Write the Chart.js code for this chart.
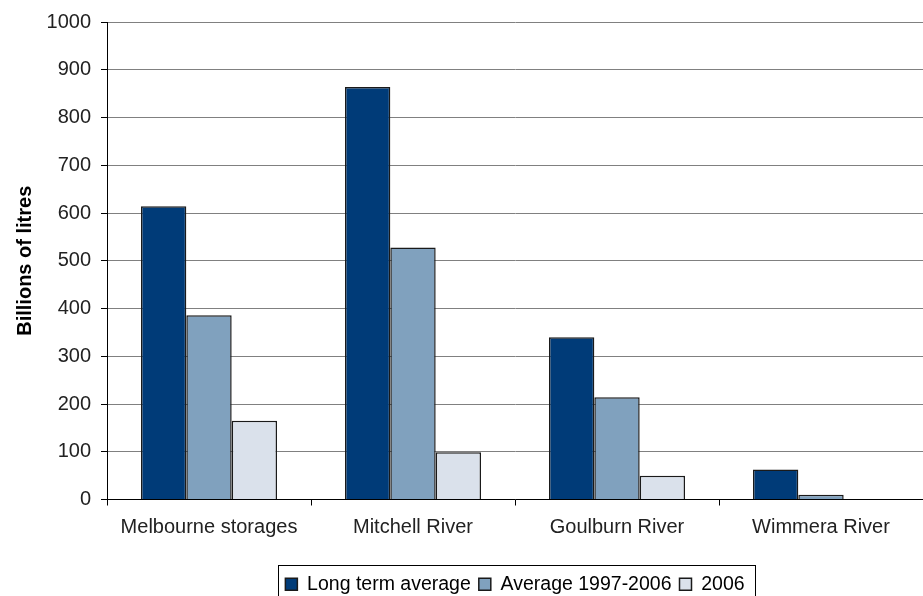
<!DOCTYPE html>
<html>
<head>
<meta charset="utf-8">
<script src="https://cdn.jsdelivr.net/npm/chart.js@4.4.0/dist/chart.umd.min.js"></script>
<style>
  html, body { margin: 0; padding: 0; background: #fff; }
  #wrap { width: 923px; height: 596px; }
</style>
</head>
<body>
<div id="wrap"><canvas id="waterChart"></canvas></div>
<script>
// data
const categories = ['Melbourne storages', 'Mitchell River', 'Goulburn River', 'Wimmera River'];
const longTermAvg = [614, 864, 340, 63];
const avg1997_2006 = [386, 528, 214, 10];
const year2006 = [165, 99, 50, 0];
const seriesNames = ['Long term average', 'Average 1997-2006', '2006'];
const yTicks = [0, 100, 200, 300, 400, 500, 600, 700, 800, 900, 1000];

const FONT = 'Liberation Sans, Arial, sans-serif';

// legend sits under the middle of the plot area (not the canvas) and has a frame
const legendBorder = {
  id: 'legendBorder',
  afterLayout(chart) {
    const lg = chart.legend;
    const ca = chart.chartArea;
    const dx = (ca.left + ca.right) / 2 - (lg.left + lg.right) / 2;
    lg.left += dx;
    lg.right += dx;
    lg.legendHitBoxes.forEach(b => { b.left += dx; });
  },
  afterDraw(chart) {
    const boxes = chart.legend.legendHitBoxes;
    if (!boxes || !boxes.length) return;
    let l = Infinity, r = -Infinity, t = Infinity;
    boxes.forEach(b => {
      l = Math.min(l, b.left);
      r = Math.max(r, b.left + b.width);
      t = Math.min(t, b.top);
    });
    const ctx = chart.ctx;
    ctx.save();
    ctx.strokeStyle = '#000';
    ctx.lineWidth = 1;
    ctx.strokeRect(Math.round(l - 7) + 0.5, Math.round(t - 10) + 0.5, Math.round(r - l + 18), 50);
    ctx.restore();
  }
};

new Chart(document.getElementById('waterChart'), {
  type: 'bar',
  data: {
    labels: categories,
    datasets: [{
      label: seriesNames[0],
      data: longTermAvg,
      backgroundColor: '#003B78',
      borderColor: '#1a1a1a',
      borderWidth: 1.5
    }, {
      label: seriesNames[1],
      data: avg1997_2006,
      backgroundColor: '#80A1BE',
      borderColor: '#1a1a1a',
      borderWidth: 1.5
    }, {
      label: seriesNames[2],
      data: year2006,
      backgroundColor: '#DAE1EB',
      borderColor: '#1a1a1a',
      borderWidth: 1.5
    }]
  },
  options: {
    responsive: true,
    maintainAspectRatio: false,
    animation: false,
    layout: { padding: { top: 12, right: -12, left: 0, bottom: -8 } },
    datasets: {
      bar: { categoryPercentage: 0.667, barPercentage: 1.0 }
    },
    plugins: {
      legend: {
        position: 'bottom',
        labels: {
          color: '#000',
          font: { family: FONT, size: 19.5 },
          boxWidth: 12,
          boxHeight: 12,
          padding: 8
        }
      },
      tooltip: { enabled: false }
    },
    scales: {
      x: {
        grid: { drawOnChartArea: false, drawTicks: true, tickLength: 6, color: '#000', offset: true },
        border: { color: '#000', width: 1 },
        ticks: { color: '#222', font: { family: FONT, size: 20 }, padding: 10, maxRotation: 0 },
        afterFit: (scale) => { scale.height = 67; }
      },
      y: {
        min: 0,
        max: 1000,
        afterBuildTicks: (scale) => { scale.ticks = yTicks.map(v => ({ value: v })); },
        grid: { color: '#808080', tickLength: 6, tickColor: '#000' },
        border: { color: '#000', width: 1 },
        ticks: {
          color: '#222',
          font: { family: FONT, size: 20 },
          padding: 10,
          callback: (v) => String(v)
        },
        title: {
          display: true,
          text: 'Billions of litres',
          color: '#000',
          font: { family: FONT, size: 20, weight: 'bold' },
          padding: { top: 13, bottom: 0 }
        },
        afterFit: (scale) => { scale.width = 107; }
      }
    }
  },
  plugins: [legendBorder]
});
</script>
</body>
</html>
